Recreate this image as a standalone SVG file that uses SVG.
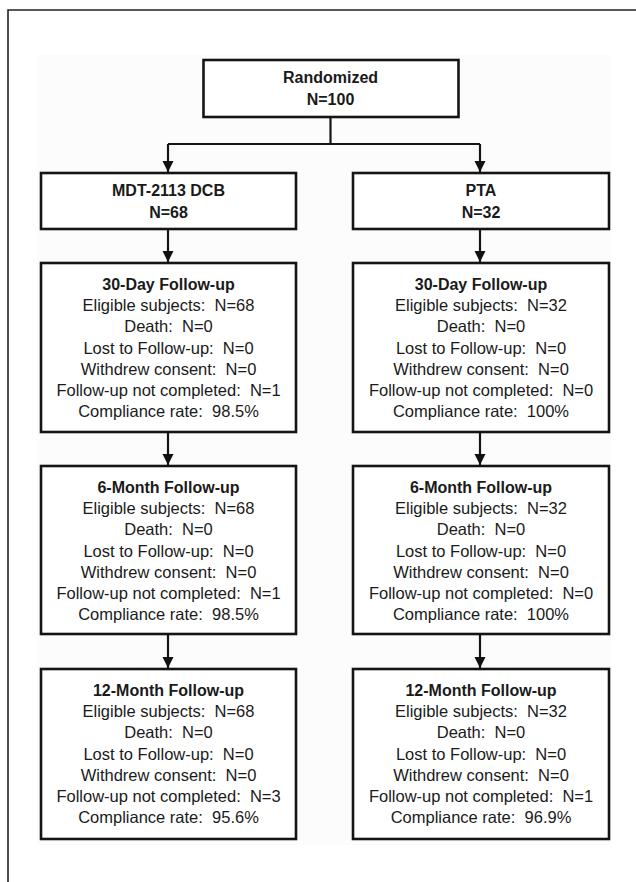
<svg xmlns="http://www.w3.org/2000/svg" width="636" height="882" viewBox="0 0 636 882">
  <defs>
    <marker id="arrow" markerUnits="userSpaceOnUse" markerWidth="12" markerHeight="12" viewBox="0 0 12 12" refX="11" refY="6" orient="auto">
      <path d="M0,0.5 L11,6 L0,11.5 Z" fill="#111"/>
    </marker>
    <style>
      .box { fill: #ffffff; stroke: #141414; stroke-width: 2.6; }
      .conn { fill: none; stroke: #141414; stroke-width: 2.2; }
      .t { font-family: "Liberation Sans", Arial, sans-serif; font-size: 16.5px; fill: #1a1a1a; text-anchor: middle; white-space: pre; }
      .b { font-weight: bold; font-size: 16px; }
    </style>
  </defs>
  <rect x="0" y="0" width="636" height="882" fill="#ffffff"/>
  <!-- frame -->
  <path d="M8,882 V10 H636" fill="none" stroke="#222" stroke-width="1.6"/>
  <!-- faint panel -->
  <rect x="37" y="55" width="574" height="790" fill="#fcfcfc"/>

  <g id="connectors">
    <path class="conn" d="M330.5,117 V144"/>
    <path class="conn" d="M168,144 H480"/>
    <path class="conn" d="M168,144 V172" marker-end="url(#arrow)"/>
    <path class="conn" d="M480,144 V172" marker-end="url(#arrow)"/>
    <path class="conn" d="M168,229 V262" marker-end="url(#arrow)"/>
    <path class="conn" d="M480,229 V262" marker-end="url(#arrow)"/>
    <path class="conn" d="M168,432 V465" marker-end="url(#arrow)"/>
    <path class="conn" d="M480,432 V465" marker-end="url(#arrow)"/>
    <path class="conn" d="M168,634 V668" marker-end="url(#arrow)"/>
    <path class="conn" d="M480,634 V668" marker-end="url(#arrow)"/>
  </g>

  <g id="randomized">
    <rect class="box" x="203.5" y="60" width="255" height="57"/>
    <text class="t b" x="330.5" y="83">Randomized</text>
    <text class="t b" x="330.5" y="105">N=100</text>
  </g>

  <g id="mdt">
    <rect class="box" x="41" y="173" width="255" height="56"/>
    <text class="t b" x="168.5" y="196">MDT-2113 DCB</text>
    <text class="t b" x="168.5" y="218">N=68</text>
  </g>

  <g id="pta">
    <rect class="box" x="353" y="173" width="256" height="56"/>
    <text class="t b" x="481" y="196">PTA</text>
    <text class="t b" x="481" y="218">N=32</text>
  </g>

  <g id="mdt-30day">
    <rect class="box" x="41" y="263" width="255" height="169"/>
    <text class="t b" x="168.5" y="290">30-Day Follow-up</text>
    <text class="t" x="168.5" y="311.2" xml:space="preserve">Eligible subjects:  N=68</text>
    <text class="t" x="168.5" y="332.4" xml:space="preserve">Death:  N=0</text>
    <text class="t" x="168.5" y="353.6" xml:space="preserve">Lost to Follow-up:  N=0</text>
    <text class="t" x="168.5" y="374.8" xml:space="preserve">Withdrew consent:  N=0</text>
    <text class="t" x="168.5" y="396" xml:space="preserve">Follow-up not completed:  N=1</text>
    <text class="t" x="168.5" y="417.2" xml:space="preserve">Compliance rate:  98.5%</text>
  </g>

  <g id="pta-30day">
    <rect class="box" x="353" y="263" width="256" height="169"/>
    <text class="t b" x="481" y="290">30-Day Follow-up</text>
    <text class="t" x="481" y="311.2" xml:space="preserve">Eligible subjects:  N=32</text>
    <text class="t" x="481" y="332.4" xml:space="preserve">Death:  N=0</text>
    <text class="t" x="481" y="353.6" xml:space="preserve">Lost to Follow-up:  N=0</text>
    <text class="t" x="481" y="374.8" xml:space="preserve">Withdrew consent:  N=0</text>
    <text class="t" x="481" y="396" xml:space="preserve">Follow-up not completed:  N=0</text>
    <text class="t" x="481" y="417.2" xml:space="preserve">Compliance rate:  100%</text>
  </g>

  <g id="mdt-6month">
    <rect class="box" x="41" y="466" width="255" height="168"/>
    <text class="t b" x="168.5" y="493">6-Month Follow-up</text>
    <text class="t" x="168.5" y="514.2" xml:space="preserve">Eligible subjects:  N=68</text>
    <text class="t" x="168.5" y="535.4" xml:space="preserve">Death:  N=0</text>
    <text class="t" x="168.5" y="556.6" xml:space="preserve">Lost to Follow-up:  N=0</text>
    <text class="t" x="168.5" y="577.8" xml:space="preserve">Withdrew consent:  N=0</text>
    <text class="t" x="168.5" y="599" xml:space="preserve">Follow-up not completed:  N=1</text>
    <text class="t" x="168.5" y="620.2" xml:space="preserve">Compliance rate:  98.5%</text>
  </g>

  <g id="pta-6month">
    <rect class="box" x="353" y="466" width="256" height="168"/>
    <text class="t b" x="481" y="493">6-Month Follow-up</text>
    <text class="t" x="481" y="514.2" xml:space="preserve">Eligible subjects:  N=32</text>
    <text class="t" x="481" y="535.4" xml:space="preserve">Death:  N=0</text>
    <text class="t" x="481" y="556.6" xml:space="preserve">Lost to Follow-up:  N=0</text>
    <text class="t" x="481" y="577.8" xml:space="preserve">Withdrew consent:  N=0</text>
    <text class="t" x="481" y="599" xml:space="preserve">Follow-up not completed:  N=0</text>
    <text class="t" x="481" y="620.2" xml:space="preserve">Compliance rate:  100%</text>
  </g>

  <g id="mdt-12month">
    <rect class="box" x="41" y="669" width="255" height="170"/>
    <text class="t b" x="168.5" y="696">12-Month Follow-up</text>
    <text class="t" x="168.5" y="717.2" xml:space="preserve">Eligible subjects:  N=68</text>
    <text class="t" x="168.5" y="738.4" xml:space="preserve">Death:  N=0</text>
    <text class="t" x="168.5" y="759.6" xml:space="preserve">Lost to Follow-up:  N=0</text>
    <text class="t" x="168.5" y="780.8" xml:space="preserve">Withdrew consent:  N=0</text>
    <text class="t" x="168.5" y="802" xml:space="preserve">Follow-up not completed:  N=3</text>
    <text class="t" x="168.5" y="823.2" xml:space="preserve">Compliance rate:  95.6%</text>
  </g>

  <g id="pta-12month">
    <rect class="box" x="353" y="669" width="256" height="170"/>
    <text class="t b" x="481" y="696">12-Month Follow-up</text>
    <text class="t" x="481" y="717.2" xml:space="preserve">Eligible subjects:  N=32</text>
    <text class="t" x="481" y="738.4" xml:space="preserve">Death:  N=0</text>
    <text class="t" x="481" y="759.6" xml:space="preserve">Lost to Follow-up:  N=0</text>
    <text class="t" x="481" y="780.8" xml:space="preserve">Withdrew consent:  N=0</text>
    <text class="t" x="481" y="802" xml:space="preserve">Follow-up not completed:  N=1</text>
    <text class="t" x="481" y="823.2" xml:space="preserve">Compliance rate:  96.9%</text>
  </g>
</svg>
